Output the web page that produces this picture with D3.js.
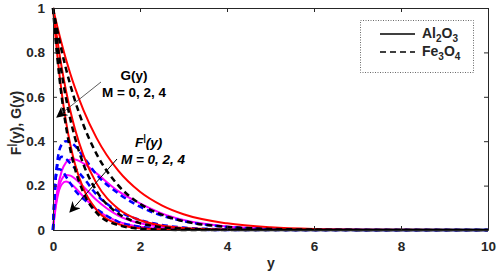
<!DOCTYPE html>
<html>
<head>
<meta charset="utf-8">
<script src="https://cdn.jsdelivr.net/npm/d3@7"></script>
<style>
  body { margin: 0; background: #fff; }
  svg { font-family: "Liberation Sans", Arial, sans-serif; }
</style>
</head>
<body>
<svg id="chart" width="498" height="273"></svg>
<script>
// sample positions along y (horizontal axis)
var ys = [0, 0.05, 0.1, 0.2, 0.3, 0.4, 0.5, 0.7, 1, 1.5, 2, 2.5, 3, 4, 5, 6, 8, 10];

// G(y), Al2O3 (solid red), M = 0, 2, 4
var gAl0 = [1, .957, .916, .839, .768, .703, .644, .54, .415, .267, .172, .111, .071, .03, .012, .005, .001, 0];
var gAl2 = [1, .925, .856, .732, .626, .536, .458, .336, .21, .096, .044, .02, .009, .002, 0, 0, 0, 0];
var gAl4 = [1, .887, .787, .619, .487, .383, .301, .186, .091, .027, .008, .003, .001, 0, 0, 0, 0, 0];
// G(y), Fe3O4 (dashed black)
var gFe0 = [1, .948, .899, .807, .725, .652, .586, .473, .343, .201, .118, .069, .04, .014, .005, .002, 0, 0];
var gFe2 = [1, .917, .84, .706, .593, .498, .419, .296, .176, .074, .031, .013, .006, .001, 0, 0, 0, 0];
var gFe4 = [1, .88, .775, .60, .465, .36, .28, .168, .078, .022, .006, .002, 0, 0, 0, 0, 0, 0];

// F'(y), Al2O3 (solid magenta)
var fAl0 = [0, .11, .18, .265, .305, .318, .318, .30, .255, .175, .12, .075, .045, .016, .006, .002, 0, 0];
var fAl2 = [0, .095, .16, .228, .248, .245, .232, .195, .135, .065, .03, .014, .006, .001, 0, 0, 0, 0];
var fAl4 = [0, .085, .145, .205, .218, .21, .193, .15, .092, .038, .015, .006, .002, 0, 0, 0, 0, 0];
// F'(y), Fe3O4 (dashed blue)
var fFe0 = [0, .20, .31, .385, .40, .395, .38, .33, .25, .165, .105, .065, .04, .014, .005, .002, 0, 0];
var fFe2 = [0, .20, .29, .33, .32, .30, .28, .235, .16, .085, .045, .023, .011, .003, .001, 0, 0, 0];
var fFe4 = [0, .20, .275, .27, .24, .21, .18, .14, .095, .037, .015, .006, .002, 0, 0, 0, 0, 0];

var xTicks = [0, 2, 4, 6, 8, 10];
var yTicks = [0, 0.2, 0.4, 0.6, 0.8, 1];

var svg = d3.select("#chart");
var x = d3.scaleLinear().domain([0, 10]).range([53, 488]);
var y = d3.scaleLinear().domain([0, 1]).range([230, 8]);

var line = d3.line()
        .x(function(d, i) { return x(ys[i]); })
        .y(function(d) { return y(d); })
        .curve(d3.curveMonotoneX);

var plot = svg.append("g");

function drawCurve(vals, color, width, dash) {
    plot.append("path")
            .attr("d", line(vals))
            .style("fill", "none")
            .style("stroke", color)
            .style("stroke-width", width)
            .style("stroke-dasharray", dash || null);
}

[fAl0, fAl2, fAl4].forEach(function(v) { drawCurve(v, "#ff00ff", 2); });
[fFe0, fFe2, fFe4].forEach(function(v) { drawCurve(v, "#0000ff", 2.5, "6,4"); });
[gAl0, gAl2, gAl4].forEach(function(v) { drawCurve(v, "#ff0000", 2); });
[gFe0, gFe2, gFe4].forEach(function(v) { drawCurve(v, "#000000", 2.5, "6,4"); });

// axes, ticks pointing inward
function styleAxis(g) {
    g.select(".domain").attr("stroke", "#262626");
    g.selectAll(".tick line").attr("stroke", "#262626");
    g.selectAll("text")
            .style("font-size", "13.5px")
            .style("font-weight", "bold")
            .attr("fill", "#262626");
}

var fmt = d3.format("~g");

svg.append("g").attr("transform", "translate(0,230)")
        .call(d3.axisBottom(x).tickValues(xTicks).tickFormat(fmt).tickSize(-4).tickSizeOuter(0).tickPadding(11))
        .call(styleAxis);
svg.append("g").attr("transform", "translate(0,8)")
        .call(d3.axisTop(x).tickValues(xTicks).tickSize(-4).tickSizeOuter(0).tickFormat(""))
        .call(styleAxis);
svg.append("g").attr("transform", "translate(53,0)")
        .call(d3.axisLeft(y).tickValues(yTicks).tickFormat(fmt).tickSize(-4).tickSizeOuter(0).tickPadding(8))
        .call(styleAxis);
svg.append("g").attr("transform", "translate(488,0)")
        .call(d3.axisRight(y).tickValues(yTicks).tickSize(-4).tickSizeOuter(0).tickFormat(""))
        .call(styleAxis);

// axis titles
svg.append("text")
        .attr("x", 271).attr("y", 268)
        .attr("text-anchor", "middle")
        .style("font-size", "14px").style("font-weight", "bold")
        .attr("fill", "#262626")
        .text("y");

var yl = svg.append("text")
        .attr("transform", "translate(21,123) rotate(-90)")
        .attr("text-anchor", "middle")
        .attr("fill", "#262626")
        .style("font-size", "14px").style("font-weight", "bold");
yl.append("tspan").text("F");
yl.append("tspan").attr("dy", -6).style("font-size", "10px").text("|");
yl.append("tspan").attr("dy", 6).text("(y), G(y)");

// annotations
svg.append("text").attr("x", 134).attr("y", 80)
        .attr("text-anchor", "middle")
        .style("font-size", "13.5px").style("font-weight", "bold")
        .text("G(y)");
svg.append("text").attr("x", 134).attr("y", 97)
        .attr("text-anchor", "middle")
        .style("font-size", "13.5px").style("font-weight", "bold")
        .text("M = 0, 2, 4");

var ft = svg.append("text").attr("x", 135).attr("y", 147)
        .style("font-size", "13.5px").style("font-weight", "bold").style("font-style", "italic");
ft.append("tspan").text("F");
ft.append("tspan").attr("dy", -6).style("font-size", "9px").text("|");
ft.append("tspan").attr("dy", 6).text("(y)");
svg.append("text").attr("x", 153).attr("y", 164)
        .attr("text-anchor", "middle")
        .style("font-size", "13.5px").style("font-weight", "bold").style("font-style", "italic")
        .text("M = 0, 2, 4");

svg.append("defs").append("marker")
        .attr("id", "head")
        .attr("viewBox", "0 0 10 10")
        .attr("refX", 9).attr("refY", 5)
        .attr("markerWidth", 11).attr("markerHeight", 11)
        .attr("markerUnits", "userSpaceOnUse")
        .attr("orient", "auto")
        .append("path").attr("d", "M0,0L10,5L0,10L3,5Z").attr("fill", "#000");

svg.append("line")
        .attr("x1", 101).attr("y1", 82).attr("x2", 57).attr("y2", 117)
        .attr("stroke", "#333").attr("stroke-width", 0.8)
        .attr("marker-end", "url(#head)");
svg.append("line")
        .attr("x1", 117).attr("y1", 159).attr("x2", 70).attr("y2", 212)
        .attr("stroke", "#000").attr("stroke-width", 1)
        .attr("marker-end", "url(#head)");

// legend
var lg = svg.append("g");
lg.append("rect")
        .attr("x", 360.5).attr("y", 20.5).attr("width", 113).attr("height", 52)
        .attr("fill", "#fff").attr("stroke", "#444").attr("stroke-width", 0.8)
        .attr("stroke-dasharray", "1,1.5");
lg.append("line").attr("x1", 380).attr("x2", 415).attr("y1", 34).attr("y2", 34)
        .attr("stroke", "#000").attr("stroke-width", 1.3);
lg.append("line").attr("x1", 380).attr("x2", 415).attr("y1", 52).attr("y2", 52)
        .attr("stroke", "#000").attr("stroke-width", 1.3).attr("stroke-dasharray", "6,4");

function chem(yPos, parts) {
    var t = lg.append("text").attr("x", 422).attr("y", yPos)
            .attr("fill", "#262626")
            .style("font-size", "14px").style("font-weight", "bold");
    parts.forEach(function(p) {
        if (p.sub) {
            t.append("tspan").attr("dy", 4).style("font-size", "10px").text(p.s);
        } else {
            t.append("tspan").attr("dy", p.back ? -4 : 0).text(p.s);
        }
    });
}
chem(38, [{s: "Al"}, {s: "2", sub: true}, {s: "O", back: true}, {s: "3", sub: true}]);
chem(56, [{s: "Fe"}, {s: "3", sub: true}, {s: "O", back: true}, {s: "4", sub: true}]);
</script>
</body>
</html>
